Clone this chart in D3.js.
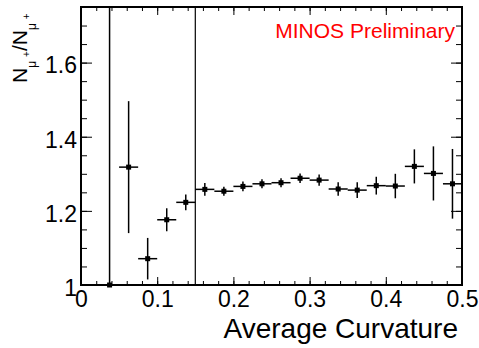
<!DOCTYPE html>
<meta charset="utf-8">
<html>
  <head>
    <title>Charge ratio vs curvature</title>
    <style>
      body { margin: 0; background: #fff; }
      svg text { font-family: "Liberation Sans", Arial, sans-serif; }
    </style>
  </head>
  <body>
    <script src="https://d3js.org/d3.v7.min.js"></script>
    <script>

  // bin centres (average curvature), ratio and its error
  var binCenters = [0.0375, 0.0625, 0.0875, 0.1125, 0.1375, 0.1625, 0.1875, 0.2125, 0.2375, 0.2625,
                    0.2875, 0.3125, 0.3375, 0.3625, 0.3875, 0.4125, 0.4375, 0.4625, 0.4875];
  var ratio = [1.000, 1.318, 1.071, 1.176, 1.223, 1.258, 1.253, 1.266, 1.273, 1.276,
               1.288, 1.283, 1.259, 1.256, 1.268, 1.267, 1.320, 1.301, 1.273];
  var ratioErr = [1.000, 0.178, 0.056, 0.031, 0.021, 0.017, 0.012, 0.013, 0.012, 0.012,
                  0.013, 0.015, 0.018, 0.021, 0.024, 0.033, 0.046, 0.073, 0.094];
  var binHalfWidth = 0.0125;
  var cutLine = 0.15;

  var xMajor = [0, 0.1, 0.2, 0.3, 0.4, 0.5];
  var yMajor = [1, 1.2, 1.4, 1.6];

  var width = 479, height = 348;
  // frame edges (note: "top" is a reserved window property, so prefix these)
  var padL = 81, padR = 462, padT = 7, padB = 285;

  var svg = d3.select("body").append("svg")
      .attr("width", width)
      .attr("height", height);

  var x = d3.scaleLinear().domain([0, 0.5]).range([padL, padR]);
  var y = d3.scaleLinear().domain([1, 1.75]).range([padB, padT]);

  var xMinor = d3.range(0, 26).map(function(i) { return i * 0.02; });
  var yMinor = d3.range(0, 16).map(function(i) { return 1 + i * 0.05; });

  function fmtX(d) { return d === 0 ? "0" : d3.format(".1f")(d); }
  function fmtY(d) { return d === 1 ? "1" : d3.format(".1f")(d); }

  /*
     axes: ticks on all four sides, ROOT style
  */
  svg.append("g").attr("transform", "translate(0," + padB + ")")
      .call(d3.axisBottom(x).tickValues(xMinor).tickSize(-4).tickFormat(""));
  var xAx = svg.append("g").attr("transform", "translate(0," + padB + ")")
      .call(d3.axisBottom(x).tickValues(xMajor).tickSize(-8).tickPadding(6).tickFormat(fmtX));
  svg.append("g").attr("transform", "translate(0," + padT + ")")
      .call(d3.axisTop(x).tickValues(xMinor).tickSize(-4).tickFormat(""));
  svg.append("g").attr("transform", "translate(0," + padT + ")")
      .call(d3.axisTop(x).tickValues(xMajor).tickSize(-8).tickFormat(""));

  svg.append("g").attr("transform", "translate(" + padL + ",0)")
      .call(d3.axisLeft(y).tickValues(yMinor).tickSize(-6).tickFormat(""));
  var yAx = svg.append("g").attr("transform", "translate(" + padL + ",0)")
      .call(d3.axisLeft(y).tickValues(yMajor).tickSize(-11).tickPadding(4).tickFormat(fmtY));
  svg.append("g").attr("transform", "translate(" + padR + ",0)")
      .call(d3.axisRight(y).tickValues(yMinor).tickSize(-6).tickFormat(""));
  svg.append("g").attr("transform", "translate(" + padR + ",0)")
      .call(d3.axisRight(y).tickValues(yMajor).tickSize(-11).tickFormat(""));

  svg.selectAll(".domain").remove();
  svg.selectAll(".tick line").attr("stroke", "#000").attr("stroke-width", 1);
  svg.selectAll(".tick text").attr("fill", "#000").style("font-size", "23px");
  yAx.selectAll(".tick text").attr("dy", "0.45em");

  // frame
  svg.append("rect")
      .attr("x", padL).attr("y", padT)
      .attr("width", padR - padL).attr("height", padB - padT)
      .attr("fill", "none").attr("stroke", "#000").attr("stroke-width", 2);

  svg.append("clipPath").attr("id", "plotclip")
    .append("rect")
      .attr("x", padL).attr("y", padT)
      .attr("width", padR - padL).attr("height", padB - padT);

  var plot = svg.append("g").attr("clip-path", "url(#plotclip)");

  // vertical cut line
  plot.append("line")
      .attr("x1", x(cutLine)).attr("x2", x(cutLine))
      .attr("y1", y(1)).attr("y2", y(1.75))
      .attr("stroke", "#000").attr("stroke-width", 1.2);

  var pts = binCenters.map(function(c, i) {
    return { x: c, y: ratio[i], e: ratioErr[i] };
  });

  var g = plot.selectAll(".pt").data(pts).enter().append("g").attr("class", "pt");

  g.append("line")
      .attr("x1", function(d) { return x(d.x - binHalfWidth); })
      .attr("x2", function(d) { return x(d.x + binHalfWidth); })
      .attr("y1", function(d) { return y(d.y); })
      .attr("y2", function(d) { return y(d.y); })
      .attr("stroke", "#000").attr("stroke-width", 1.5);

  g.append("line")
      .attr("x1", function(d) { return x(d.x); })
      .attr("x2", function(d) { return x(d.x); })
      .attr("y1", function(d) { return y(d.y - d.e); })
      .attr("y2", function(d) { return y(d.y + d.e); })
      .attr("stroke", "#000").attr("stroke-width", 1.5);

  // markers are not clipped (ROOT draws them over the frame)
  svg.append("g").selectAll("rect").data(pts).enter().append("rect")
      .attr("x", function(d) { return x(d.x) - 2.5; })
      .attr("y", function(d) { return y(d.y) - 2.5; })
      .attr("width", 5).attr("height", 5)
      .attr("fill", "#000");

  // axis title
  svg.append("text")
      .attr("x", 458).attr("y", 338)
      .attr("text-anchor", "end")
      .style("font-size", "28px")
      .text("Average Curvature");

  // y title N_{mu+}/N_{mu+}
  var yt = svg.append("text")
      .attr("transform", "translate(26.7,83) rotate(-90)")
      .style("font-size", "21px");
  yt.append("tspan").text("N");
  yt.append("tspan").attr("dy", 9).style("font-size", "12px").text("μ");
  yt.append("tspan").attr("dy", -6).attr("dx", 4).style("font-size", "10px").text("+");
  yt.append("tspan").attr("dy", -3).text("/");
  yt.append("tspan").text("N");
  yt.append("tspan").attr("dy", 9).style("font-size", "12px").text("μ");
  yt.append("tspan").attr("dy", -6).attr("dx", 4).style("font-size", "10px").text("+");

  // label
  svg.append("text")
      .attr("x", 455).attr("y", 38)
      .attr("text-anchor", "end")
      .attr("fill", "#ff0000")
      .style("font-size", "21px")
      .text("MINOS Preliminary");

    </script>
  </body>
</html>
